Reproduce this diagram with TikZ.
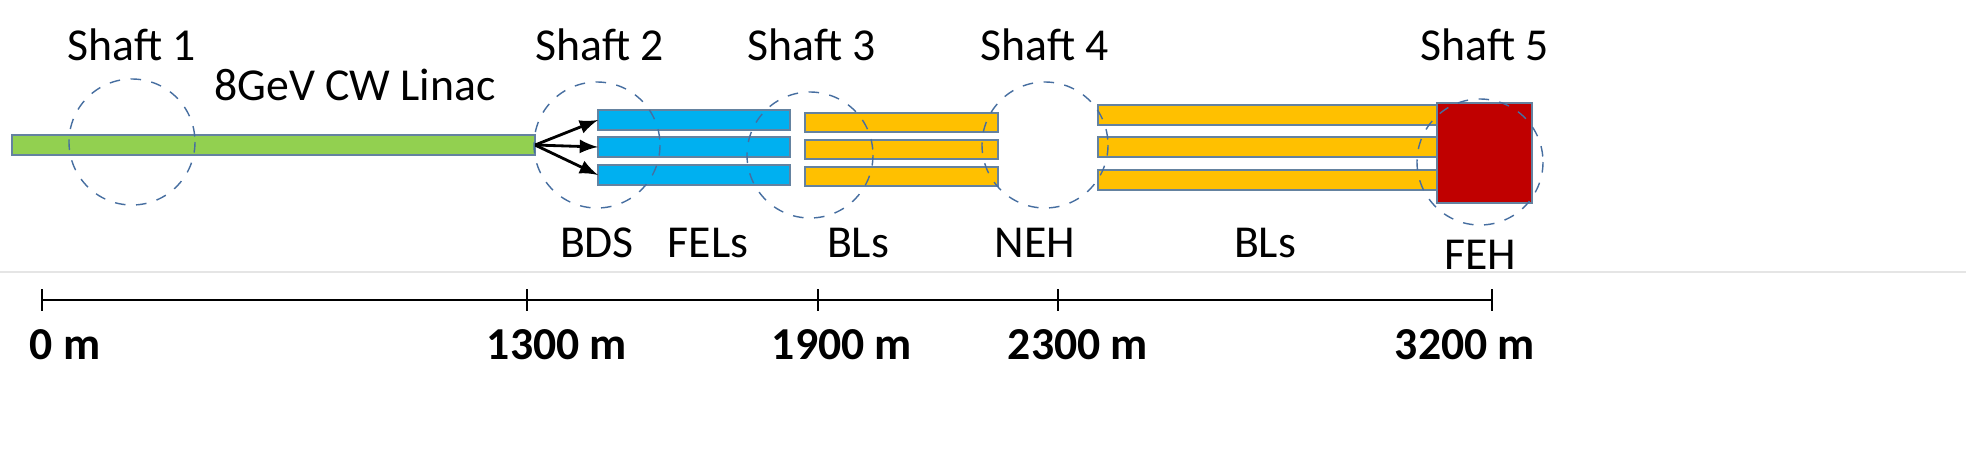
\documentclass[tikz,border=0pt]{standalone}
\usepackage{fontspec}
\setmainfont{Carlito}
\definecolor{sh}{RGB}{70,110,160}
\definecolor{bd}{RGB}{100,130,160}
\begin{document}
\begin{tikzpicture}[x=0.01cm,y=-0.01cm,
  shaft/.style={draw=sh,dashed,thin},
  bar/.style={draw=bd,line width=0.8pt},
  lbl/.style={font=\fontsize{13}{15}\selectfont},
  tick/.style={font=\bfseries\fontsize{13}{15}\selectfont}]
\useasboundingbox (0,0) rectangle (1966,475);
\fill[white] (0,0) rectangle (1966,475);
\draw[black!10] (0,272) -- (1966,272);
% bars
\path[bar,fill={rgb,255:red,146;green,208;blue,80}] (12,135) rectangle (535,155);
\coordinate (src) at (535,145);
\foreach \y/\n in {110/b1,137/b2,165/b3}{
  \path[bar,fill={rgb,255:red,0;green,176;blue,240}] (598,\y) rectangle (790,\y+20);
  \coordinate (\n) at (598,\y+10);
  \draw[-latex,thick] (src) -- (\n);}
\foreach \y in {113,140,167}
  \path[bar,fill={rgb,255:red,255;green,192;blue,0}] (805,\y) rectangle (998,\y+19);
\foreach \y in {105,137,170}
  \path[bar,fill={rgb,255:red,255;green,192;blue,0}] (1098,\y) rectangle (1440,\y+20);
\path[draw=bd,fill={rgb,255:red,192;green,0;blue,0}] (1437,103) rectangle (1532,203);
% shafts
\foreach \x/\y in {132/142,597/145,810/155,1045/145,1480/162}
  \draw[shaft] (\x,\y) circle[radius=63];
\foreach \x/\n/\t in {132/s1/Shaft 1,600/s2/Shaft 2,812/s3/Shaft 3,1045/s4/Shaft 4,1485/s5/Shaft 5}
  \node[lbl] (t\n) at (\x,45) {\t};
\node[lbl] (lin) at (355,85) {8GeV CW Linac};
\node[lbl] (bds) at (597,243) {BDS};
\node[lbl] (fel) at (708,243) {FELs};
\node[lbl] (bl1) at (858,243) {BLs};
\node[lbl] (neh) at (1035,243) {NEH};
\node[lbl] (bl2) at (1265,243) {BLs};
\node[lbl] (feh) at (1480,255) {FEH};
% axis
\coordinate (a0) at (42,300); \coordinate (a1) at (1492,300);
\draw[thick] (a0) -- (a1);
\foreach \x/\t/\lx in {42/0 m/65,527/1300 m/557,818/1900 m/842,1058/2300 m/1078,1492/3200 m/1465}{
  \draw[thick] (\x,289) -- (\x,311);
  \node[tick] at (\lx,345) {\t};}
\end{tikzpicture}
\end{document}
